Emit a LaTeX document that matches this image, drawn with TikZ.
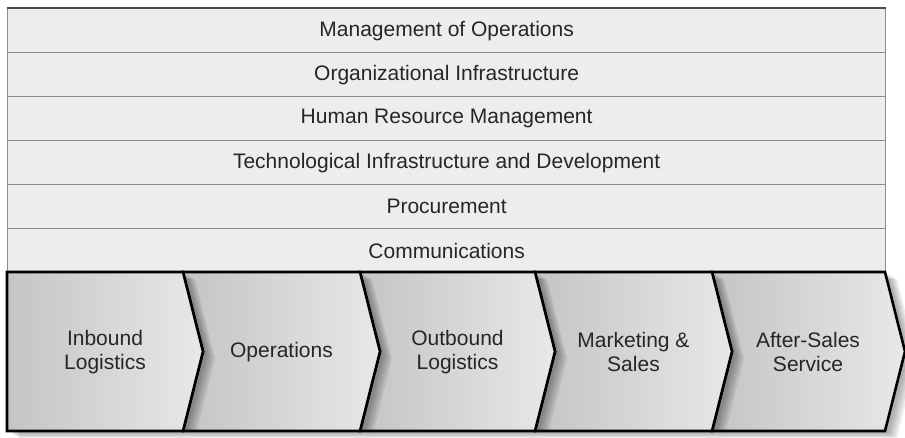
\documentclass[tikz,border=0pt]{standalone}
\usepackage{fontspec}
\setmainfont{Liberation Sans}
\begin{document}
\begin{tikzpicture}[x=1pt,y=-1pt,
  rowbox/.style={draw=black!45,line width=1.3pt,fill=black!7,minimum width=878pt,minimum height=44pt,inner sep=0pt,anchor=north west,font=\fontsize{21}{24}\selectfont,text=black!85},
  chevfill/.style={left color=black!23,right color=black!9,draw=black,line width=2.6pt,line join=miter},
  chevtext/.style={align=center,font=\fontsize{21}{24}\selectfont,text=black!85},
  shadowlayer/.style={fill=black,opacity=0.07,draw=none}]
\useasboundingbox (0,0) rectangle (905,437);
% support activities
\node[rowbox] (r1) at (7,8)   {Management of Operations};
\node[rowbox] (r2) at (7,52)  {Organizational Infrastructure};
\node[rowbox] (r3) at (7,96)  {Human Resource Management};
\node[rowbox] (r4) at (7,140) {Technological Infrastructure and Development};
\node[rowbox] (r5) at (7,184) {Procurement};
\node[rowbox] (r6) at (7,228) {Communications};
\draw[black!70,line width=1.5pt] (r1.north west) -- (r1.north east);
% chevrons, drawn right to left so shadows fall on the next one
\def\ya{272}\def\yb{431}\def\ym{351.5}\def\dd{20}
\foreach \L/\R/\first in {712/885/0,535/712/0,360/535/0,183/360/0,7/183/1}{
  \foreach \s in {4,6,8,10,12}{
    \ifnum\first=1
      \fill[shadowlayer,xshift=\s pt,yshift=-0.6*\s pt] (\L,\ya) -- (\R,\ya) -- (\R+\dd,\ym) -- (\R,\yb) -- (\L,\yb) -- cycle;
    \else
      \fill[shadowlayer,xshift=\s pt,yshift=-0.6*\s pt] (\L,\ya) -- (\R,\ya) -- (\R+\dd,\ym) -- (\R,\yb) -- (\L,\yb) -- (\L+\dd,\ym) -- cycle;
    \fi
  }
  \ifnum\first=1
    \path[chevfill] (\L,\ya) -- (\R,\ya) -- (\R+\dd,\ym) -- (\R,\yb) -- (\L,\yb) -- cycle;
  \else
    \path[chevfill] (\L,\ya) -- (\R,\ya) -- (\R+\dd,\ym) -- (\R,\yb) -- (\L,\yb) -- (\L+\dd,\ym) -- cycle;
  \fi
}
\node[chevtext] (c1) at (105,352)   {Inbound\\Logistics};
\node[chevtext] (c2) at (281.5,352) {Operations};
\node[chevtext] (c3) at (457.5,352) {Outbound\\Logistics};
\node[chevtext] (c4) at (633.5,352) {Marketing \&\\Sales};
\node[chevtext] (c5) at (808,352)   {After-Sales\\Service};
\end{tikzpicture}
\end{document}
